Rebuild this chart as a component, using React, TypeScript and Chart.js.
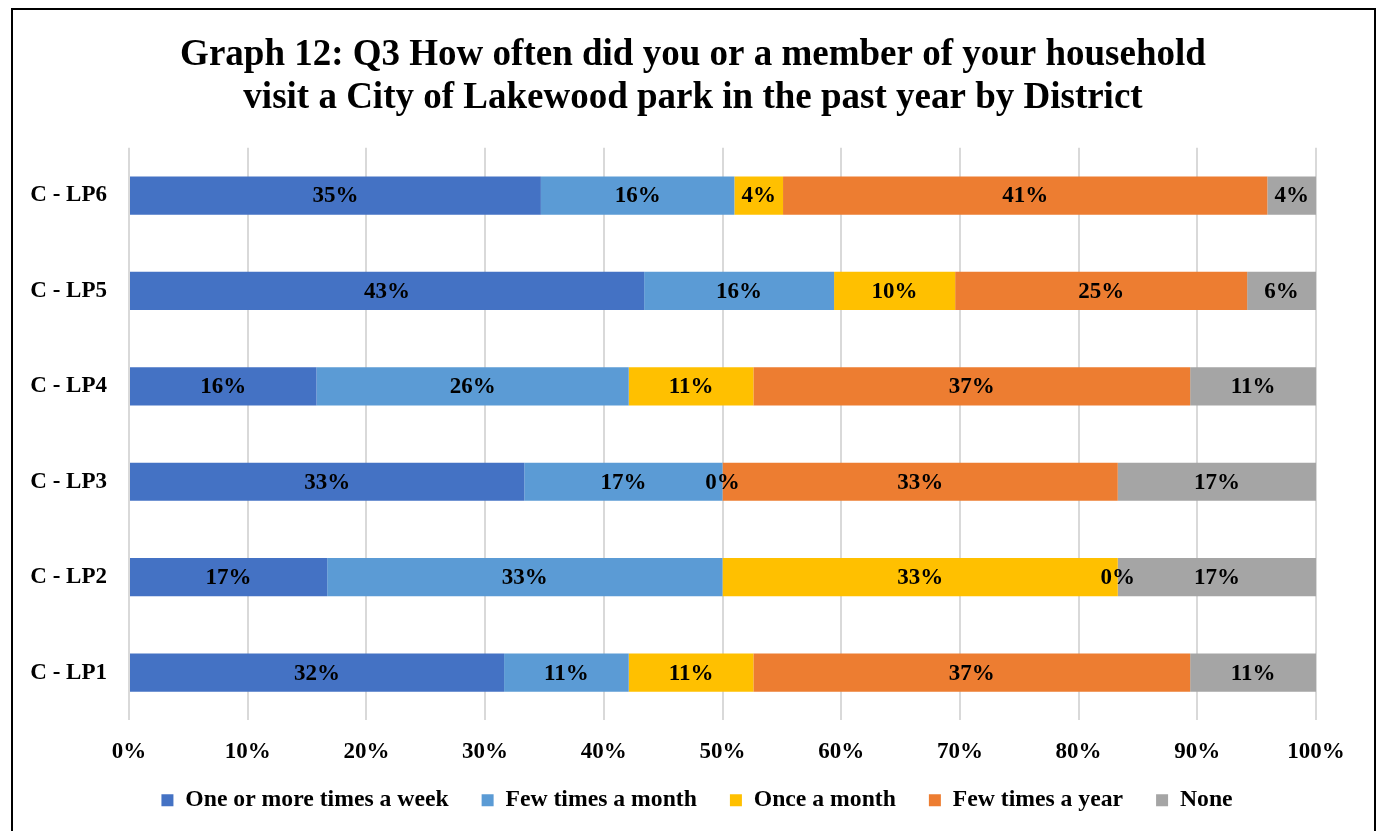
import React, { useEffect, useRef } from "react";
import { Chart, registerables } from "chart.js";

Chart.register(...registerables);

const categories = ["C - LP6", "C - LP5", "C - LP4", "C - LP3", "C - LP2", "C - LP1"];
const seriesNames = ["One or more times a week", "Few times a month", "Once a month", "Few times a year", "None"];
const weekly = [34.7, 43.4, 15.8, 33.3, 16.7, 31.6];
const fewMonth = [16.3, 16.0, 26.3, 16.7, 33.3, 10.5];
const onceMonth = [4.1, 10.2, 10.5, 0, 33.3, 10.5];
const fewYear = [40.8, 24.6, 36.8, 33.3, 0, 36.8];
const none = [4.1, 5.8, 10.6, 16.7, 16.7, 10.6];
const colors = ["#4472C4", "#5B9BD5", "#FFC000", "#ED7D31", "#A5A5A5"];
const titleLines = [
  "Graph 12: Q3 How often did you or a member of your household",
  "visit a City of Lakewood park in the past year by District",
];

const FONT = "'Liberation Serif', 'Times New Roman', serif";

const labelPlugin = {
  id: "segLabels",
  afterDatasetsDraw(chart: any) {
    const ctx = chart.ctx;
    ctx.save();
    ctx.font = `bold 23px ${FONT}`;
    ctx.fillStyle = "#000";
    ctx.textAlign = "center";
    ctx.textBaseline = "middle";
    chart.data.datasets.forEach((ds: any, di: number) => {
      const meta = chart.getDatasetMeta(di);
      meta.data.forEach((bar: any, i: number) => {
        const v = ds.data[i];
        const cx = (bar.x + bar.base) / 2;
        ctx.fillText(Math.round(v) + "%", cx, bar.y + 1);
      });
    });
    ctx.restore();
  },
};

// Center title and legend on the outer frame (like the original Excel chart)
const centerPlugin = {
  id: "centerBlocks",
  afterLayout(chart: any) {
    if (chart.titleBlock) chart.titleBlock.left = 70;
    const lg = chart.legend;
    if (lg) {
      lg.left = 78;
      lg.top -= 9;
      lg.bottom -= 9;
    }
  },
};

export default function App() {
  const ref = useRef<HTMLCanvasElement>(null);
  useEffect(() => {
    document.body.style.margin = "0";
    document.body.style.overflow = "hidden";
    const series = [weekly, fewMonth, onceMonth, fewYear, none];
    const chart = new Chart(ref.current as HTMLCanvasElement, {
      type: "bar",
      data: {
        labels: categories,
        datasets: series.map((d, i) => ({
          label: seriesNames[i],
          data: d,
          backgroundColor: colors[i],
          borderWidth: 0,
          barPercentage: 0.4,
          categoryPercentage: 1,
        })),
      },
      options: {
        indexAxis: "y",
        responsive: false,
        animation: false,
        devicePixelRatio: 1,
        layout: { padding: { left: 0, right: 65, top: 0, bottom: 0 } },
        plugins: {
          title: {
            display: true,
            text: titleLines,
            color: "#000",
            font: { family: FONT, size: 37, weight: "bold", lineHeight: 1.16 },
            padding: { top: 34, bottom: 28 },
          },
          legend: {
            position: "bottom",
            labels: {
              color: "#000",
              font: { family: FONT, size: 23.7, weight: "bold" },
              boxWidth: 12,
              boxHeight: 12,
              padding: 33,
            },
          },
          tooltip: { enabled: false },
        },
        scales: {
          x: {
            stacked: true,
            min: 0,
            max: 100,
            ticks: {
              stepSize: 10,
              color: "#000",
              font: { family: FONT, size: 23, weight: "bold" },
              padding: 18,
              callback: (v: any) => v + "%",
            },
            grid: { color: "#d9d9d9", lineWidth: 2, drawTicks: false },
            border: { display: false },
            afterFit: (scale: any) => {
              scale.height = 44;
            },
          },
          y: {
            stacked: true,
            ticks: {
              color: "#000",
              font: { family: FONT, size: 23, weight: "bold" },
              padding: 22,
            },
            grid: { display: false, drawTicks: false },
            border: { display: false },
            afterFit: (scale: any) => {
              scale.width = 129;
            },
          },
        },
      },
      plugins: [labelPlugin, centerPlugin],
    });
    return () => chart.destroy();
  }, []);
  return (
    <div style={{ position: "fixed", left: 0, top: 0, width: 1381, height: 831, overflow: "hidden", background: "#fff" }}>
      <canvas ref={ref} width={1381} height={831} style={{ position: "absolute", left: 0, top: 0 }} />
      <div style={{ position: "absolute", left: 11, top: 8, width: 1361, height: 900, border: "2px solid #000", pointerEvents: "none" }} />
    </div>
  );
}
